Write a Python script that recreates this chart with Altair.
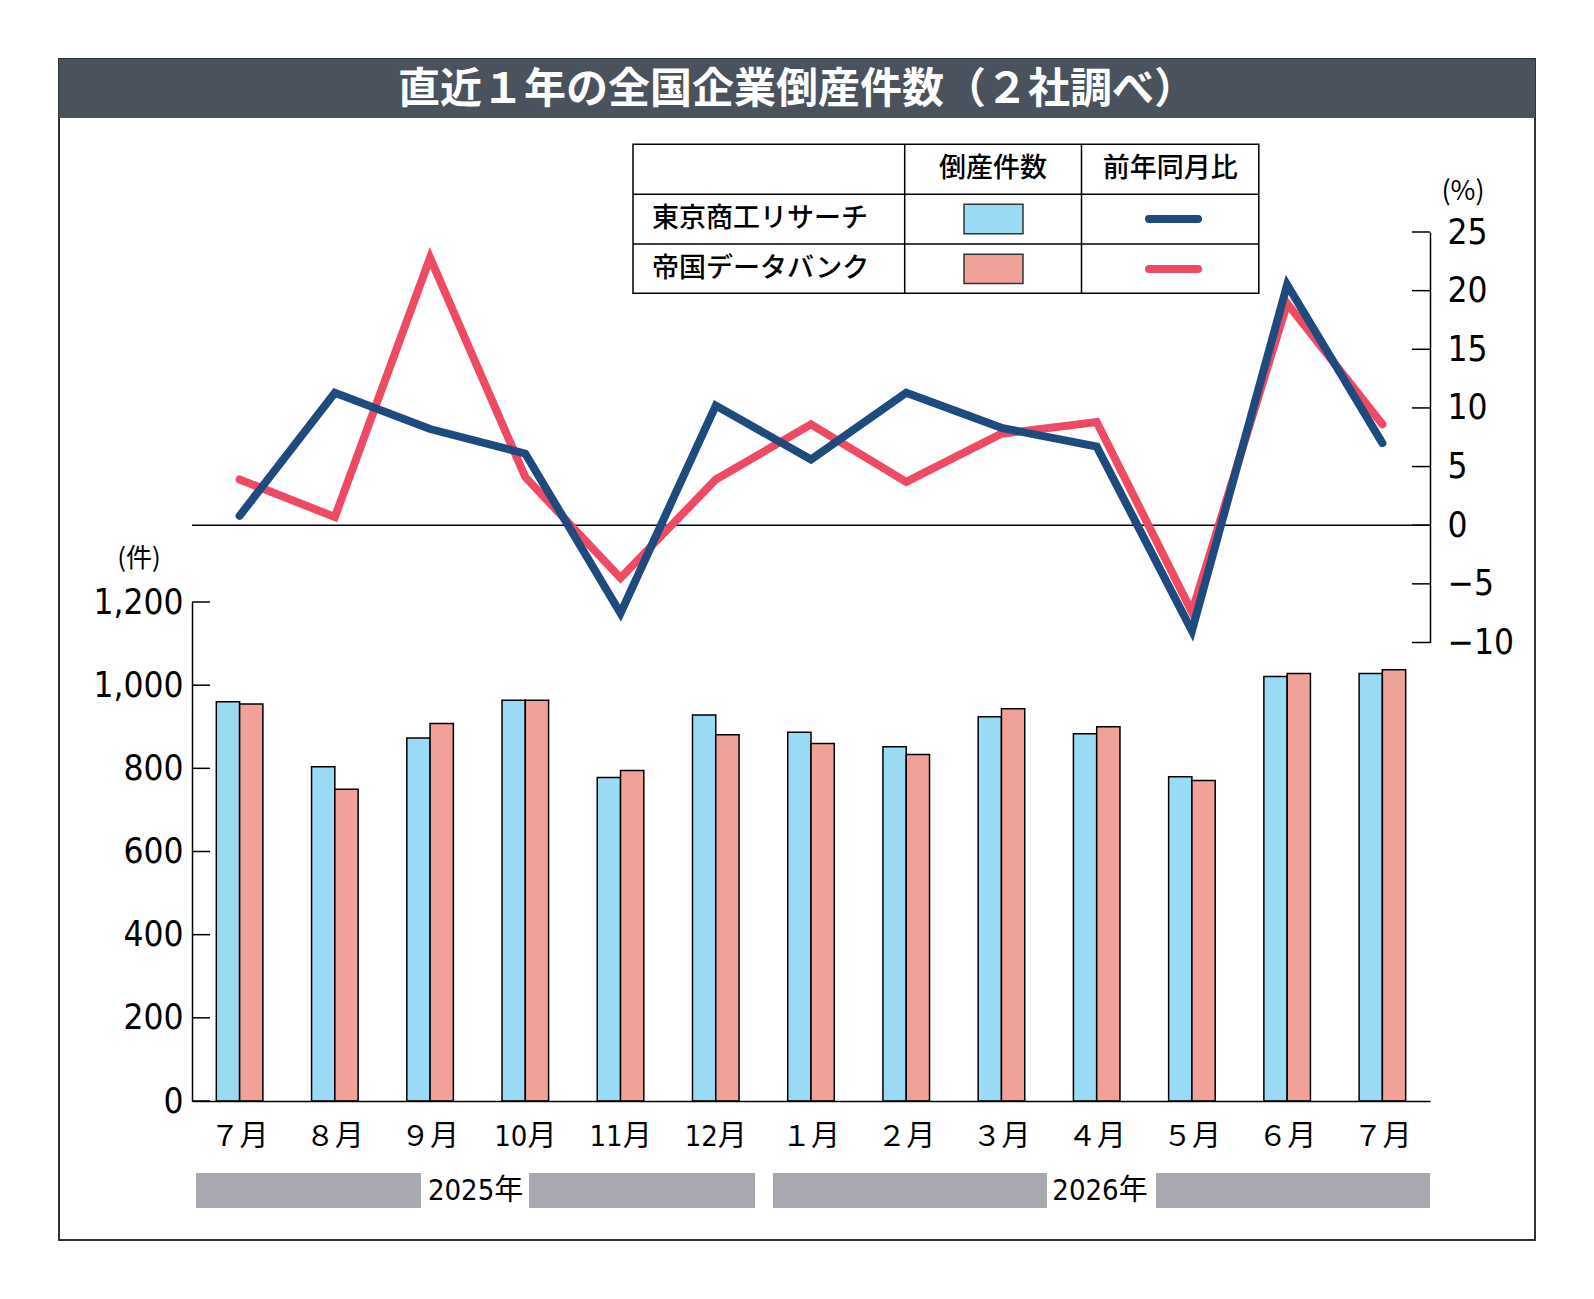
import altair as alt
import pandas as pd

# ---------------- data ----------------
month_keys = ["2025|７月", "2025|８月", "2025|９月", "2025|10月", "2025|11月", "2025|12月",
              "2026|１月", "2026|２月", "2026|３月", "2026|４月", "2026|５月", "2026|６月", "2026|７月"]
sources = ["東京商工リサーチ", "帝国データバンク"]
tsr_counts = [960, 804, 873, 964, 778, 928, 887, 852, 924, 883, 780, 1021, 1028]
tdb_counts = [955, 750, 908, 964, 795, 881, 860, 833, 943, 900, 771, 1028, 1037]
tsr_yoy = [0.8, 11.3, 8.2, 6.1, -7.5, 10.2, 5.6, 11.3, 8.3, 6.7, -9.0, 20.5, 7.0]
tdb_yoy = [3.9, 0.7, 22.8, 4.1, -4.5, 3.9, 8.6, 3.7, 7.8, 8.8, -7.4, 18.9, 8.6]
count_ticks = [0, 200, 400, 600, 800, 1000, 1200]
yoy_ticks = [-10, -5, 0, 5, 10, 15, 20, 25]
years = ["2025年", "2026年"]
legend_headers = ["倒産件数", "前年同月比"]
title_text = "直近１年の全国企業倒産件数（２社調べ）"
count_unit = "(件)"
yoy_unit = "(%)"

# ---------------- style / layout ----------------
W, H = 1238, 869
BLUE_BAR, PINK_BAR = "#9BDAF5", "#F0A198"
NAVY, RED = "#1F4A7E", "#EE4A63"
NARROW = "Liberation Sans Narrow, DejaVu Sans Condensed, Roboto Condensed, Noto Sans CJK JP, sans-serif"
CJK = "Noto Sans CJK JP, sans-serif"

x_scale = alt.Scale(domain=month_keys, paddingInner=0.511, paddingOuter=0.2555)
bar_scale = alt.Scale(domain=[0, 1200], range=[H, 370], nice=False, zero=False)
line_scale = alt.Scale(domain=[-10, 25], range=[410.5, 0], nice=False, zero=False)

one = pd.DataFrame({"k": [0]})


def box(x, x2, y, y2, **kw):
    return alt.Chart(one).mark_rect(**kw).encode(
        x=alt.value(x), x2=alt.value(x2), y=alt.value(y), y2=alt.value(y2))


def rule(x, x2, y, y2, **kw):
    return alt.Chart(one).mark_rule(**kw).encode(
        x=alt.value(x), x2=alt.value(x2), y=alt.value(y), y2=alt.value(y2))


def label(text, x, y, **kw):
    return alt.Chart(one).mark_text(text=text, baseline="middle", **kw).encode(
        x=alt.value(x), y=alt.value(y))


# frame + title
frame = box(-133, 1343, -173, 1008, fill="white", fillOpacity=0, stroke="#333333", strokeWidth=2)
title_bar = box(-133, 1343, -173, -114, fill="#4A535D")
title = label(title_text, 605, -142, font=CJK, fontSize=42, fontWeight="bold", color="white", align="center")

# year bands
year_layers = [
    box(4, 229, 941, 976, fill="#A8A8B0"),
    box(337, 563, 941, 976, fill="#A8A8B0"),
    label(years[0], 283.6, 959, font=NARROW, fontSize=29, color="black", align="center"),
    box(581, 855, 941, 976, fill="#A8A8B0"),
    box(964, W, 941, 976, fill="#A8A8B0"),
    label(years[1], 908, 959, font=NARROW, fontSize=29, color="black", align="center"),
]

# bars
bars_df = pd.DataFrame({
    "month": month_keys * 2,
    "src": [sources[0]] * len(month_keys) + [sources[1]] * len(month_keys),
    "count": tsr_counts + tdb_counts,
})
bars = alt.Chart(bars_df).mark_bar(stroke="black", strokeWidth=1.5).encode(
    x=alt.X("month:N", scale=x_scale,
            axis=alt.Axis(orient="bottom", title=None, labelExpr="split(datum.value, '|')[1]",
                          ticks=False, tickSize=0, domain=True, domainColor="black", domainWidth=1.5,
                          labelPadding=35, labelBaseline="middle", labelAngle=0, zindex=1,
                          labelFont=NARROW, labelFontSize=29, labelColor="black", grid=False)),
    xOffset=alt.XOffset("src:N", scale=alt.Scale(domain=sources, paddingInner=0, paddingOuter=0)),
    y=alt.Y("count:Q", scale=bar_scale,
            axis=alt.Axis(orient="left", values=count_ticks, format=",d", title=None, grid=False,
                          domain=True, domainColor="black", domainWidth=1.5, ticks=False, tickSize=0,
                          labelPadding=9, labelFont=NARROW, labelFontSize=35, labelColor="black",
                          zindex=1)),
    color=alt.Color("src:N", scale=alt.Scale(domain=sources, range=[BLUE_BAR, PINK_BAR]), legend=None),
)

bar_ticks = alt.Chart(pd.DataFrame({"v": count_ticks})).mark_rule(color="black", strokeWidth=1.5).encode(
    y=alt.Y("v:Q", scale=bar_scale, axis=None), x=alt.value(0), x2=alt.value(18))

# lines
zero_line = alt.Chart(pd.DataFrame({"v": [0]})).mark_rule(color="black", strokeWidth=1.5).encode(
    y=alt.Y("v:Q", scale=line_scale, axis=None), x=alt.value(0), x2=alt.value(W))

tdb_df = pd.DataFrame({"month": month_keys, "yoy": tdb_yoy})
tsr_df = pd.DataFrame({"month": month_keys, "yoy": tsr_yoy})
red_line = alt.Chart(tdb_df).mark_line(color=RED, strokeWidth=8, strokeCap="round").encode(
    x=alt.X("month:N", scale=x_scale, bandPosition=0.5),
    y=alt.Y("yoy:Q", scale=line_scale, axis=None),
)
blue_line = alt.Chart(tsr_df).mark_line(color=NAVY, strokeWidth=8, strokeCap="round").encode(
    x=alt.X("month:N", scale=x_scale, bandPosition=0.5),
    y=alt.Y("yoy:Q", scale=line_scale,
            axis=alt.Axis(orient="right", values=yoy_ticks, format="d", title=None, grid=False,
                          domain=True, domainColor="black", domainWidth=1.5, ticks=False, tickSize=0,
                          labelPadding=17, labelFont=NARROW, labelFontSize=35, labelColor="black",
                          zindex=1)),
)
line_ticks = alt.Chart(pd.DataFrame({"v": yoy_ticks})).mark_rule(color="black", strokeWidth=1.5).encode(
    y=alt.Y("v:Q", scale=line_scale, axis=None), x=alt.value(W - 18), x2=alt.value(W))

# units
units = [
    label(count_unit, -53, 327, font=CJK, fontSize=26, color="black", align="center"),
    label(yoy_unit, 1271, -40, font=CJK, fontSize=27, color="black", align="center"),
]

# legend table
TL, C1, C2, TR = 441, 712.7, 889.5, 1066.8
TT, R1, R2, TB = -87.7, -37.7, 12, 61.3
legend_layers = [
    box(TL, TR, TT, TB, fill="white", stroke="black", strokeWidth=1.5),
    rule(C1, C1, TT, TB, color="black", strokeWidth=1.5),
    rule(C2, C2, TT, TB, color="black", strokeWidth=1.5),
    rule(TL, TR, R1, R1, color="black", strokeWidth=1.5),
    rule(TL, TR, R2, R2, color="black", strokeWidth=1.5),
    label(legend_headers[0], (C1 + C2) / 2, (TT + R1) / 2, font=CJK, fontSize=27, fontWeight=500, color="black", align="center"),
    label(legend_headers[1], (C2 + TR) / 2, (TT + R1) / 2, font=CJK, fontSize=27, fontWeight=500, color="black", align="center"),
    label(sources[0], 460, (R1 + R2) / 2, font=CJK, fontSize=27, fontWeight=500, color="black", align="left"),
    label(sources[1], 460, (R2 + TB) / 2, font=CJK, fontSize=27, fontWeight=500, color="black", align="left"),
    box(772, 831, -27.7, 1.8, fill=BLUE_BAR, stroke="#333333", strokeWidth=1.5),
    box(772, 831, 22.2, 51.6, fill=PINK_BAR, stroke="#333333", strokeWidth=1.5),
    rule(957, 1006, -13, -13, color=NAVY, strokeWidth=8, strokeCap="round"),
    rule(957, 1006, 37, 37, color=RED, strokeWidth=8, strokeCap="round"),
]

layers = [frame, title_bar, title] + year_layers + [bars, bar_ticks, zero_line, red_line, blue_line,
                                                    line_ticks] + units + legend_layers

chart = alt.layer(*layers).resolve_scale(y="independent").properties(
    width=W, height=H,
    autosize=alt.AutoSizeParams(type="none"),
    padding={"left": 184, "top": 224, "right": 150, "bottom": 170},
    background="white",
).configure_view(stroke=None).configure_axis(grid=False)

chart.save("out.html", embed_options={"renderer": "svg", "actions": False})
